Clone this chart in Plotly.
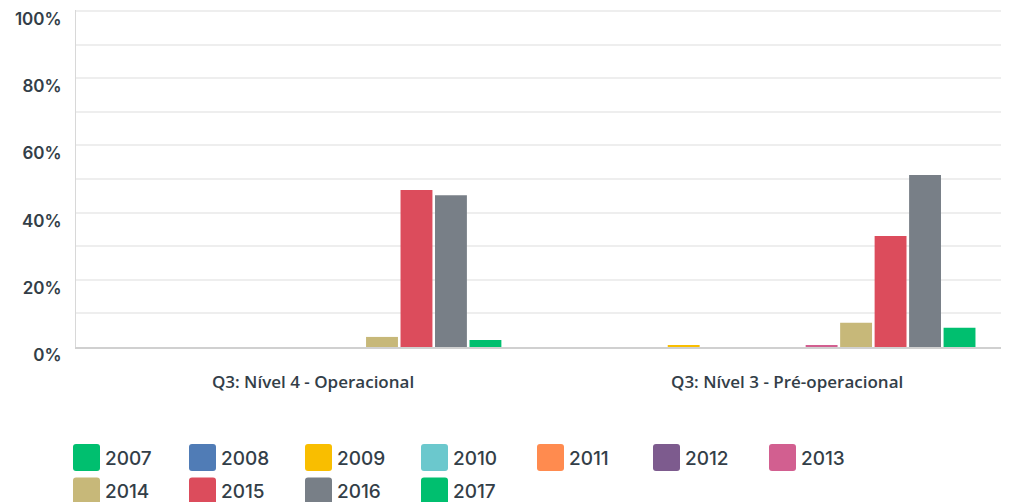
import plotly.graph_objects as go

CATEGORIES = ["Q3: Nível 4 - Operacional", "Q3: Nível 3 - Pré-operacional"]
YEARS = ["2007", "2008", "2009", "2010", "2011", "2012", "2013",
         "2014", "2015", "2016", "2017"]
COLORS = ["#00BF6F", "#507CB6", "#F9BE00", "#6BC8CD", "#FF8B4F", "#7D5B8E",
          "#D25F90", "#C7B879", "#DC4C5C", "#787F87", "#00BF6F"]
# percentages per year: [Nível 4, Nível 3]
VALUES = {
    "2007": [0, 0],
    "2008": [0, 0],
    "2009": [0, 0.5],
    "2010": [0, 0],
    "2011": [0, 0],
    "2012": [0, 0],
    "2013": [0, 0.5],
    "2014": [3.0, 7.2],
    "2015": [46.7, 33.0],
    "2016": [45.2, 51.2],
    "2017": [2.1, 5.7],
}
Y_TICKS = [0, 20, 40, 60, 80, 100]
Y_TICKTEXT = ["0%", "20%", "40%", "60%", "80%", "100%"]

TEXT = "#333E48"
PAD = 8  # default body margin of the page
W, H = 1009 - PAD, 502 - PAD
ML, MR, MT, MB = 76 - PAD, 0, 10 - PAD, 155


def px_x(x):
    # page pixel -> paper x
    return (x - PAD - ML) / (W - ML - MR)


def px_y(y):
    return (H - MB - (y - PAD)) / (H - MT - MB)


fig = go.Figure()
for year, color in zip(YEARS, COLORS):
    fig.add_trace(go.Bar(x=CATEGORIES, y=VALUES[year], name=year,
                         marker=dict(color=color, line=dict(width=0)),
                         showlegend=False,
                         hovertemplate="%{x}<br>" + year + ": %{y}%<extra></extra>"))

# custom legend: rounded swatches + labels, 7 per row
shapes, annotations = [], []
for i, (year, color) in enumerate(zip(YEARS, COLORS)):
    row, col = divmod(i, 7)
    x0 = 73 + col * 116
    y0 = 444 + row * 33.5
    s, r = 27, 3
    a, b = px_x(x0), px_x(x0 + s)
    c, d = px_y(y0), px_y(y0 + s)
    rx, ry = px_x(x0 + r) - a, c - px_y(y0 + r)
    path = (f"M{a+rx},{c} L{b-rx},{c} Q{b},{c} {b},{c-ry} "
            f"L{b},{d+ry} Q{b},{d} {b-rx},{d} L{a+rx},{d} "
            f"Q{a},{d} {a},{d+ry} L{a},{c-ry} Q{a},{c} {a+rx},{c} Z")
    shapes.append(dict(type="path", path=path, xref="paper", yref="paper",
                       fillcolor=color, line=dict(width=0), layer="above"))
    annotations.append(dict(x=px_x(x0 + s + 3), y=px_y(y0 + s / 2 + 1),
                            xref="paper", yref="paper", text=year,
                            showarrow=False, xanchor="left", yanchor="middle",
                            font=dict(family="Inter", size=19, color=TEXT, weight=500)))

fig.update_layout(
    width=W, height=H,
    margin=dict(l=ML, r=MR, t=MT, b=MB),
    paper_bgcolor="white", plot_bgcolor="white",
    barmode="group", bargap=0.2, bargroupgap=0.075,
    shapes=shapes, annotations=annotations,
    showlegend=False,
    xaxis=dict(range=[-0.5, 1.468], showgrid=False, showline=True,
               linecolor="#D0D0D0", linewidth=2, ticks="",
               ticklabelstandoff=19,
               tickfont=dict(family="Open Sans", size=17, color=TEXT, weight=600)),
    yaxis=dict(range=[0, 100.3], tickvals=Y_TICKS, ticktext=Y_TICKTEXT,
               showgrid=True, gridcolor="#EEEEEE", gridwidth=1.5,
               minor=dict(dtick=10, showgrid=True, gridcolor="#EEEEEE", gridwidth=1.5),
               showline=True, linecolor="#D8D8D8", linewidth=1,
               zeroline=False, ticks="", ticklabelstandoff=10, ticklabelshift=8,
               tickfont=dict(family="Inter", size=17, color=TEXT, weight=600)),
)

fig.write_html("out.html")
